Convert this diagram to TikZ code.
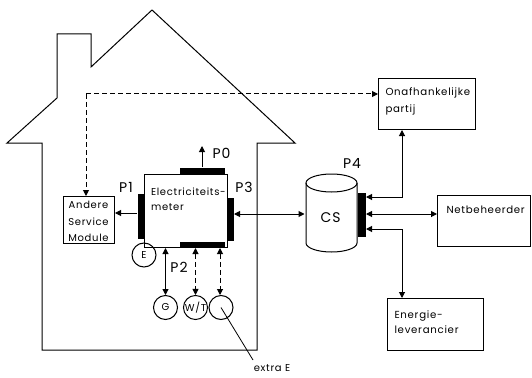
\documentclass[tikz,border=0pt]{standalone}
\usepackage{fontspec}
\setmainfont{Poppins}[LetterSpace=7]
\usetikzlibrary{arrows.meta,calc}
\begin{document}
\begin{tikzpicture}[x=1pt,y=-1pt,
  line width=1pt,
  tip/.tip={Triangle[length=6pt,width=6pt]},
  box/.style={draw,rectangle,inner sep=0pt,anchor=north west},
  bar/.style={fill=black,draw=none,rectangle,inner sep=0pt,anchor=north west},
  small/.style={font=\fontsize{10.2}{16}\selectfont,inner sep=0pt,align=left},
  plabel/.style={font=\fontsize{14}{14}\selectfont,inner sep=0pt},
  circ/.style={draw,circle,minimum size=24pt,inner sep=0pt,font=\fontsize{10}{10}\selectfont},
  dsh/.style={dash pattern=on 5pt off 3pt},
  conn/.style={-{tip}},
  conn2/.style={{tip}-{tip}}
]
\useasboundingbox (0,0) rectangle (532,377);
% house
\draw (42,350) -- (42,143) -- (7,143) -- (57,98) -- (57,34) -- (91,34) -- (91,67)
  -- (152,10) -- (295,143) -- (257,143) -- (257,350) -- cycle;
% boxes
\node[box,minimum width=51pt,minimum height=47pt] (andere) at (63,196) {};
\node[box,minimum width=83pt,minimum height=73pt,fill=white] (meter) at (144,174) {};
\node[box,minimum width=97pt,minimum height=51pt] (onaf) at (378,78) {};
\node[box,minimum width=93pt,minimum height=51pt] (net) at (437,195) {};
\node[box,minimum width=96pt,minimum height=52pt] (energie) at (387,298) {};
% texts
\node[small,align=center,anchor=north,font=\fontsize{10}{16.5}\selectfont] (andereT) at (88.5,200.6) {Andere\\Service\\Module};
\node[small,anchor=north west,font=\fontsize{10}{15}\selectfont] (meterT) at (150.5,187.6) {Electriciteits-\\meter};
\node[small,anchor=north west,font=\fontsize{10.2}{17}\selectfont] (onafT) at (385,87.6) {Onafhankelijke\\partij};
\node[small,anchor=north west] (netT) at (446,205.6) {Netbeheerder};
\node[small,anchor=north west,font=\fontsize{10.2}{15}\selectfont] (energieT) at (394,310) {Energie-\\leverancier};
% bars
\node[bar,minimum width=7pt,minimum height=45pt] (p1bar) at (137,193) {};
\node[bar,minimum width=6pt,minimum height=43pt] (p3bar) at (227,197) {};
\node[bar,minimum width=45pt,minimum height=7pt] (p0bar) at (179,167) {};
\node[bar,minimum width=45pt,minimum height=6pt] (p2bar) at (179,241) {};
% CS cylinder
\draw[fill=white] (306,183) -- (306,243) arc[start angle=180,end angle=360,x radius=25.5pt,y radius=9pt] -- (357,183);
\draw (331.5,183) ellipse[x radius=25.5pt,y radius=9pt];
\node[inner sep=0pt,minimum width=51pt,minimum height=60pt,font=\fontsize{14}{14}\selectfont] (cs) at (330.5,218) {CS};
\node[bar,minimum width=8pt,minimum height=44pt] (p4bar) at (357,192) {};
% labels
\node[plabel,anchor=west] (p0) at (212,153) {P0};
\node[plabel] (p1) at (126,187) {P1};
\node[plabel] (p3) at (244,187) {P3};
\node[plabel] (p2) at (179,267) {P2};
\node[plabel] (p4) at (352,163) {P4};
% circles
\node[circ] (e) at (144,255) {E};
\node[circ] (g) at (165.5,307.5) {G};
\node[circ] (wt) at (195.5,307.5) {W/T};
\node[circ] (extra) at (221,307.5) {};
\node[font=\fontsize{10}{10}\selectfont,inner sep=0pt,anchor=base] (extraT) at (272,371.5) {extra E};
\coordinate (extraEnd) at (253,360);
\draw[line width=0.8pt] (extra.center) -- (extraEnd);
% connectors
\coordinate (dc) at (86,94);
\draw[dsh,conn] (dc) -- (dc -| onaf.west);
\draw[dsh,conn] (dc) -- (dc |- andere.north);
\draw[conn] (p0bar.north) -- ++(0,-21);
\draw[conn] (p1bar.west |- 0,213) -- (andere.east |- 0,213);
\draw[conn2] (cs.west |- 0,214) -- (p3bar.east |- 0,214);
\draw[conn2] (meter.south -| g.north) -- (g.north);
\draw[conn2,dsh] (p2bar.south -| wt.north) -- (wt.north);
\draw[conn2,dsh] (p2bar.south -| 220,0) -- (extra.north -| 220,0);
\coordinate (ca) at (402,197);
\coordinate (cb) at (402,229);
\draw[conn2] (p4bar.east |- ca) -- (ca) -- (ca |- onaf.south);
\draw[conn2] (p4bar.east |- 0,214) -- (net.west |- 0,214);
\draw[conn2] (p4bar.east |- cb) -- (cb) -- (cb |- energie.north);
\end{tikzpicture}
\end{document}
